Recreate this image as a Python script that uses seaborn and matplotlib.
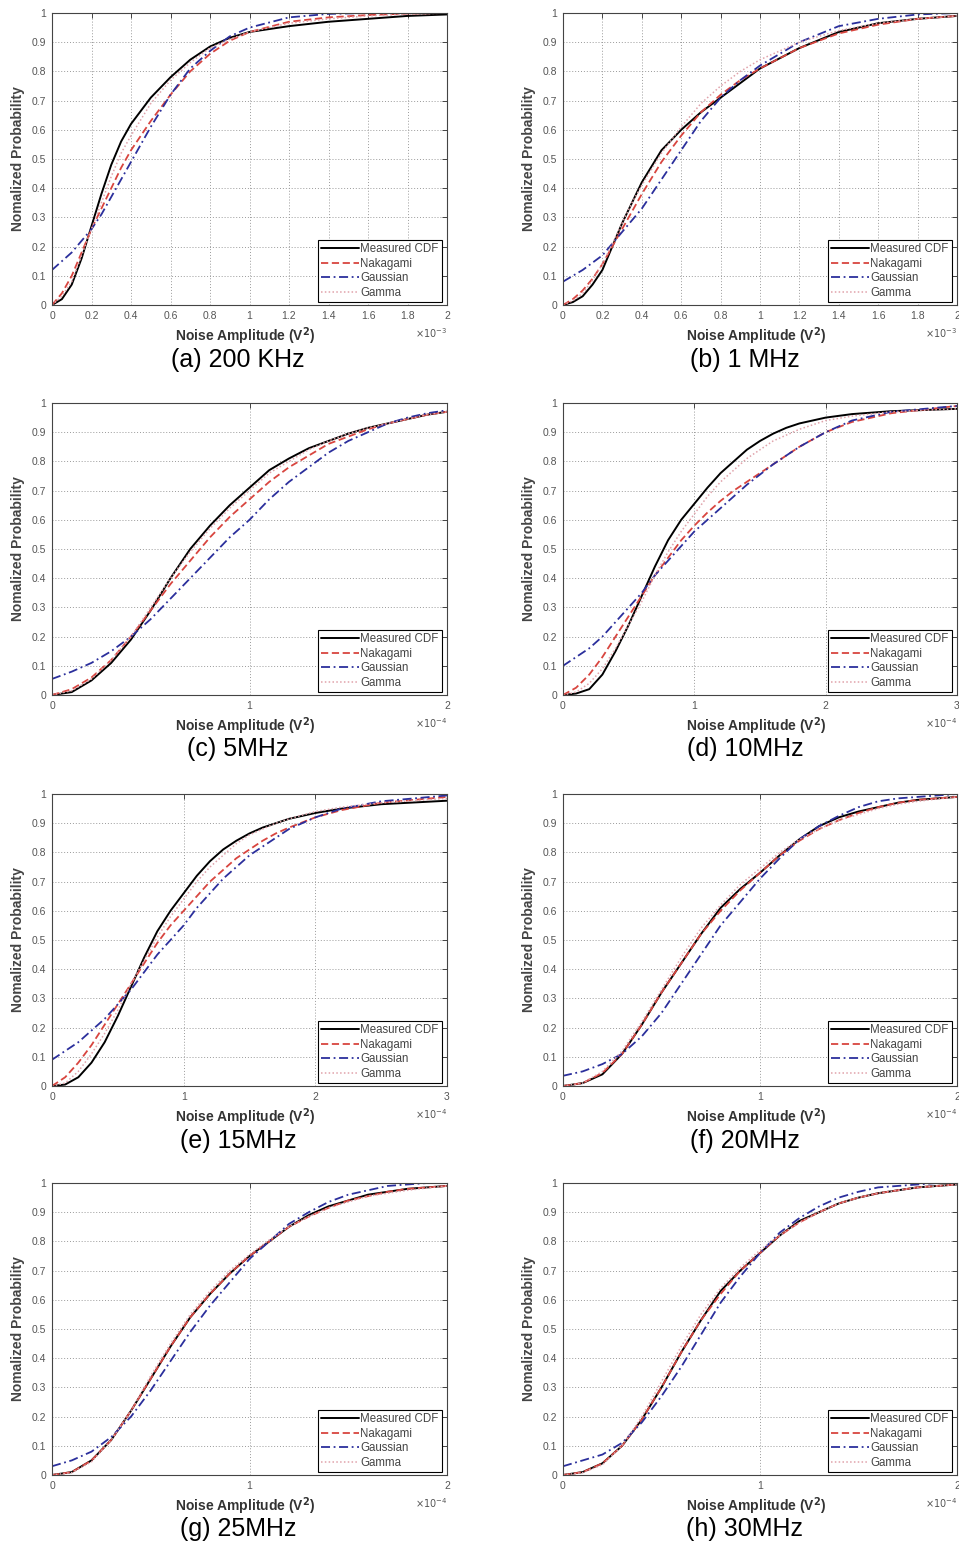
import numpy as np
import pandas as pd
import matplotlib
matplotlib.use("Agg")
import matplotlib.pyplot as plt
from matplotlib.ticker import FixedLocator, FuncFormatter
import seaborn as sns

# ---------------- data ----------------
captions = ["(a) 200 KHz", "(b) 1 MHz", "(c) 5MHz", "(d) 10MHz",
            "(e) 15MHz", "(f) 20MHz", "(g) 25MHz", "(h) 30MHz"]
x_max = [2, 2, 2, 3, 3, 2, 2, 2]
x_ticks_a = [0, 0.2, 0.4, 0.6, 0.8, 1, 1.2, 1.4, 1.6, 1.8, 2]
x_ticks_2 = [0, 1, 2]
x_ticks_3 = [0, 1, 2, 3]
x_exponent = ["-3", "-3", "-4", "-4", "-4", "-4", "-4", "-4"]
y_ticks = [0, 0.1, 0.2, 0.3, 0.4, 0.5, 0.6, 0.7, 0.8, 0.9, 1]
series_names = ["Measured CDF", "Nakagami", "Gaussian", "Gamma"]

# (a) 200 KHz
a_x = [0, 0.05, 0.1, 0.15, 0.2, 0.25, 0.3, 0.35, 0.4, 0.5, 0.6, 0.7, 0.8, 0.9, 1.0, 1.2, 1.4, 1.6, 1.8, 2.0]
a_meas = [0, 0.02, 0.07, 0.16, 0.27, 0.38, 0.48, 0.56, 0.62, 0.71, 0.78, 0.84, 0.885, 0.915, 0.935, 0.955, 0.97, 0.98, 0.99, 0.995]
a_naka = [0, 0.04, 0.10, 0.18, 0.26, 0.33, 0.40, 0.47, 0.53, 0.63, 0.72, 0.80, 0.86, 0.905, 0.935, 0.97, 0.985, 0.993, 0.998, 1.0]
a_gaus = [0.12, 0.15, 0.18, 0.22, 0.26, 0.31, 0.37, 0.43, 0.49, 0.61, 0.72, 0.81, 0.87, 0.92, 0.95, 0.985, 0.997, 1.0, 1.0, 1.0]
a_gamm = [0, 0.03, 0.08, 0.17, 0.26, 0.35, 0.44, 0.52, 0.58, 0.69, 0.77, 0.83, 0.88, 0.91, 0.935, 0.965, 0.98, 0.99, 0.996, 1.0]

# (b) 1 MHz
b_x = [0, 0.05, 0.1, 0.15, 0.2, 0.25, 0.3, 0.35, 0.4, 0.5, 0.6, 0.7, 0.8, 0.9, 1.0, 1.2, 1.4, 1.6, 1.8, 2.0]
b_meas = [0, 0.01, 0.03, 0.07, 0.12, 0.2, 0.28, 0.35, 0.42, 0.53, 0.60, 0.66, 0.71, 0.76, 0.81, 0.88, 0.935, 0.965, 0.98, 0.99]
b_naka = [0, 0.02, 0.05, 0.09, 0.14, 0.2, 0.26, 0.32, 0.38, 0.49, 0.58, 0.66, 0.72, 0.77, 0.81, 0.88, 0.93, 0.96, 0.98, 0.99]
b_gaus = [0.08, 0.10, 0.12, 0.145, 0.17, 0.21, 0.25, 0.29, 0.33, 0.43, 0.53, 0.63, 0.71, 0.77, 0.82, 0.90, 0.955, 0.98, 0.995, 1.0]
b_gamm = [0, 0.015, 0.04, 0.085, 0.14, 0.21, 0.28, 0.35, 0.41, 0.52, 0.61, 0.69, 0.75, 0.80, 0.84, 0.90, 0.94, 0.965, 0.98, 0.99]

# (c) 5MHz
c_x = [0, 0.1, 0.2, 0.3, 0.4, 0.5, 0.6, 0.7, 0.8, 0.9, 1.0, 1.1, 1.2, 1.3, 1.4, 1.5, 1.6, 1.7, 1.8, 1.9, 2.0]
c_meas = [0, 0.01, 0.05, 0.11, 0.19, 0.29, 0.40, 0.50, 0.58, 0.65, 0.71, 0.77, 0.81, 0.845, 0.87, 0.895, 0.915, 0.93, 0.945, 0.96, 0.97]
c_naka = [0, 0.02, 0.06, 0.12, 0.20, 0.29, 0.38, 0.46, 0.54, 0.61, 0.67, 0.73, 0.78, 0.82, 0.86, 0.885, 0.91, 0.93, 0.945, 0.96, 0.97]
c_gaus = [0.055, 0.08, 0.11, 0.15, 0.20, 0.26, 0.33, 0.40, 0.47, 0.54, 0.60, 0.67, 0.73, 0.78, 0.83, 0.87, 0.90, 0.93, 0.95, 0.965, 0.975]
c_gamm = [0, 0.015, 0.055, 0.12, 0.20, 0.30, 0.40, 0.49, 0.57, 0.64, 0.70, 0.76, 0.80, 0.84, 0.87, 0.895, 0.915, 0.93, 0.945, 0.96, 0.97]

# (d) 10MHz
d_x = [0, 0.1, 0.2, 0.3, 0.4, 0.5, 0.6, 0.7, 0.8, 0.9, 1.0, 1.1, 1.2, 1.3, 1.4, 1.5, 1.6, 1.7, 1.8, 1.9, 2.0, 2.2, 2.5, 3.0]
d_meas = [0, 0.005, 0.02, 0.07, 0.15, 0.24, 0.34, 0.44, 0.53, 0.60, 0.655, 0.71, 0.76, 0.80, 0.84, 0.87, 0.895, 0.915, 0.93, 0.94, 0.95, 0.962, 0.972, 0.98]
d_naka = [0, 0.025, 0.07, 0.13, 0.20, 0.27, 0.34, 0.41, 0.47, 0.53, 0.58, 0.625, 0.665, 0.70, 0.73, 0.76, 0.79, 0.82, 0.85, 0.875, 0.90, 0.935, 0.965, 0.99]
d_gaus = [0.10, 0.13, 0.16, 0.20, 0.25, 0.30, 0.35, 0.41, 0.46, 0.51, 0.56, 0.60, 0.64, 0.68, 0.72, 0.755, 0.79, 0.82, 0.85, 0.875, 0.90, 0.94, 0.97, 0.99]
d_gamm = [0, 0.01, 0.04, 0.09, 0.16, 0.24, 0.32, 0.41, 0.49, 0.56, 0.62, 0.68, 0.73, 0.77, 0.81, 0.84, 0.87, 0.89, 0.91, 0.925, 0.94, 0.955, 0.97, 0.98]

# (e) 15MHz
e_x = [0, 0.1, 0.2, 0.3, 0.4, 0.5, 0.6, 0.7, 0.8, 0.9, 1.0, 1.1, 1.2, 1.3, 1.4, 1.5, 1.6, 1.7, 1.8, 2.0, 2.2, 2.5, 3.0]
e_meas = [0, 0.005, 0.03, 0.08, 0.15, 0.24, 0.34, 0.44, 0.53, 0.60, 0.66, 0.72, 0.77, 0.81, 0.84, 0.865, 0.885, 0.90, 0.915, 0.935, 0.95, 0.965, 0.977]
e_naka = [0, 0.03, 0.08, 0.14, 0.21, 0.28, 0.35, 0.42, 0.49, 0.55, 0.60, 0.65, 0.70, 0.74, 0.78, 0.81, 0.84, 0.865, 0.885, 0.92, 0.945, 0.97, 0.99]
e_gaus = [0.09, 0.12, 0.15, 0.19, 0.23, 0.28, 0.33, 0.39, 0.45, 0.50, 0.55, 0.61, 0.66, 0.71, 0.75, 0.79, 0.82, 0.85, 0.88, 0.92, 0.95, 0.975, 0.995]
e_gamm = [0, 0.01, 0.05, 0.11, 0.18, 0.26, 0.35, 0.43, 0.51, 0.58, 0.64, 0.70, 0.75, 0.79, 0.83, 0.86, 0.88, 0.90, 0.915, 0.94, 0.955, 0.97, 0.985]

# (f) 20MHz
f_x = [0, 0.1, 0.2, 0.3, 0.4, 0.5, 0.6, 0.7, 0.8, 0.9, 1.0, 1.1, 1.2, 1.3, 1.4, 1.5, 1.6, 1.7, 1.8, 1.9, 2.0]
f_meas = [0, 0.01, 0.04, 0.11, 0.21, 0.32, 0.42, 0.52, 0.61, 0.675, 0.73, 0.79, 0.845, 0.89, 0.92, 0.94, 0.955, 0.97, 0.98, 0.985, 0.99]
f_naka = [0, 0.01, 0.045, 0.11, 0.21, 0.32, 0.42, 0.52, 0.60, 0.67, 0.73, 0.79, 0.84, 0.88, 0.91, 0.935, 0.955, 0.97, 0.98, 0.985, 0.99]
f_gaus = [0.035, 0.05, 0.075, 0.11, 0.17, 0.25, 0.35, 0.45, 0.55, 0.63, 0.71, 0.78, 0.845, 0.89, 0.925, 0.955, 0.975, 0.985, 0.99, 0.995, 1.0]
f_gamm = [0, 0.01, 0.05, 0.12, 0.22, 0.33, 0.44, 0.54, 0.62, 0.69, 0.745, 0.80, 0.845, 0.88, 0.91, 0.93, 0.95, 0.965, 0.975, 0.983, 0.99]

# (g) 25MHz
g_x = [0, 0.1, 0.2, 0.3, 0.4, 0.5, 0.6, 0.7, 0.8, 0.9, 1.0, 1.1, 1.2, 1.3, 1.4, 1.5, 1.6, 1.7, 1.8, 1.9, 2.0]
g_meas = [0, 0.01, 0.05, 0.12, 0.22, 0.33, 0.44, 0.54, 0.62, 0.69, 0.75, 0.80, 0.85, 0.89, 0.92, 0.94, 0.96, 0.97, 0.98, 0.985, 0.99]
g_naka = [0, 0.01, 0.05, 0.12, 0.22, 0.33, 0.44, 0.54, 0.62, 0.69, 0.75, 0.80, 0.85, 0.885, 0.915, 0.94, 0.955, 0.97, 0.98, 0.985, 0.99]
g_gaus = [0.03, 0.05, 0.08, 0.13, 0.20, 0.29, 0.39, 0.49, 0.58, 0.66, 0.74, 0.80, 0.86, 0.90, 0.935, 0.96, 0.975, 0.99, 0.995, 1.0, 1.0]
g_gamm = [0, 0.008, 0.045, 0.12, 0.22, 0.34, 0.45, 0.55, 0.63, 0.70, 0.755, 0.805, 0.85, 0.885, 0.915, 0.935, 0.955, 0.965, 0.975, 0.983, 0.99]

# (h) 30MHz
h_x = [0, 0.1, 0.2, 0.3, 0.4, 0.5, 0.6, 0.7, 0.8, 0.9, 1.0, 1.1, 1.2, 1.3, 1.4, 1.5, 1.6, 1.7, 1.8, 1.9, 2.0]
h_meas = [0, 0.01, 0.04, 0.10, 0.19, 0.30, 0.42, 0.53, 0.63, 0.70, 0.76, 0.82, 0.87, 0.90, 0.93, 0.95, 0.965, 0.975, 0.985, 0.99, 0.995]
h_naka = [0, 0.01, 0.04, 0.10, 0.19, 0.30, 0.42, 0.53, 0.62, 0.70, 0.76, 0.82, 0.865, 0.90, 0.93, 0.95, 0.965, 0.975, 0.985, 0.99, 0.995]
h_gaus = [0.03, 0.05, 0.07, 0.11, 0.18, 0.27, 0.37, 0.48, 0.59, 0.68, 0.76, 0.83, 0.88, 0.92, 0.95, 0.97, 0.985, 0.99, 0.995, 1.0, 1.0]
h_gamm = [0, 0.008, 0.035, 0.10, 0.20, 0.32, 0.44, 0.55, 0.64, 0.71, 0.77, 0.82, 0.865, 0.90, 0.93, 0.95, 0.965, 0.975, 0.985, 0.99, 0.995]

panels = [
    (a_x, [a_meas, a_naka, a_gaus, a_gamm]),
    (b_x, [b_meas, b_naka, b_gaus, b_gamm]),
    (c_x, [c_meas, c_naka, c_gaus, c_gamm]),
    (d_x, [d_meas, d_naka, d_gaus, d_gamm]),
    (e_x, [e_meas, e_naka, e_gaus, e_gamm]),
    (f_x, [f_meas, f_naka, f_gaus, f_gamm]),
    (g_x, [g_meas, g_naka, g_gaus, g_gamm]),
    (h_x, [h_meas, h_naka, h_gaus, h_gamm]),
]
x_tick_sets = [x_ticks_a, x_ticks_a, x_ticks_2, x_ticks_3, x_ticks_3, x_ticks_2, x_ticks_2, x_ticks_2]

# ---------------- style ----------------
sns.set_theme(style="white")
plt.rcParams['font.family'] = ['Liberation Sans', 'DejaVu Sans']

line_styles = [
    dict(color="black", linestyle="-", linewidth=1.4),
    dict(color="#d8453f", linestyle=(0, (4, 2)), linewidth=1.3),
    dict(color="#2b2f9c", linestyle=(0, (5, 2, 1, 2)), linewidth=1.3),
    dict(color="#e0a2aa", linestyle=(0, (1, 1.5)), linewidth=1.1),
]

fig = plt.figure(figsize=(9.59, 15.49), dpi=100)

W, H = 959.0, 1549.0
col_left = [52, 563]
col_width = [395, 394]
row_top = [13, 403, 794, 1183]
ax_h = 292
caption_y = [360, 749, 1141, 1529]
caption_x = [238, 745]

fmt = FuncFormatter(lambda v, p: ("%g" % round(v, 3)))

for i, (xs, ys_list) in enumerate(panels):
    r, c = divmod(i, 2)
    left = col_left[c] / W
    bottom = 1 - (row_top[r] + ax_h) / H
    ax = fig.add_axes([left, bottom, col_width[c] / W, ax_h / H])

    for name, ys, st in zip(series_names, ys_list, line_styles):
        df = pd.DataFrame({"x": xs, "y": ys})
        sns.lineplot(data=df, x="x", y="y", ax=ax, label=name, estimator=None,
                     sort=False, **st)

    ax.set_xlim(0, x_max[i])
    ax.set_ylim(0, 1)
    ax.xaxis.set_major_locator(FixedLocator(x_tick_sets[i]))
    ax.yaxis.set_major_locator(FixedLocator(y_ticks))
    ax.xaxis.set_major_formatter(fmt)
    ax.yaxis.set_major_formatter(fmt)
    ax.tick_params(direction="in", length=3.5, width=0.7, top=True, right=True,
                   labelsize=7.5, labelcolor="#555555", color="#444444", pad=4)
    ax.grid(True, linestyle=(0, (1, 2)), color="#9a9a9a", linewidth=0.7)
    for sp in ax.spines.values():
        sp.set_color("#444444")
        sp.set_linewidth(0.8)

    ax.set_xlabel("Noise Amplitude (V$^\\mathbf{2}$)", fontsize=10, fontweight="bold",
                  color="#333333")
    ax.set_ylabel("Nomalized Probability", fontsize=10, fontweight="bold",
                  color="#444444")
    ax.xaxis.set_label_coords(0.49, -0.07)
    ax.yaxis.set_label_coords(-0.068, 0.5)

    ax.text(1.0, -0.095, r"$\times10^{%s}$" % x_exponent[i], transform=ax.transAxes,
            ha="right", va="center", fontsize=7, color="#555555")

    leg = ax.legend(loc="lower right", bbox_to_anchor=(0.988, 0.01), borderaxespad=0,
                    fontsize=8.3, frameon=True, fancybox=False, framealpha=1,
                    edgecolor="black", handlelength=3.3, handletextpad=0.1,
                    labelspacing=0.22, borderpad=0.3)
    leg.get_frame().set_linewidth(0.8)
    for t in leg.get_texts():
        t.set_color("#444444")

    fig.text(caption_x[c] / W, 1 - caption_y[r] / H, captions[i], ha="center",
             va="center", fontsize=18, color="black")

fig.savefig("out.png", dpi=100, facecolor="white")
